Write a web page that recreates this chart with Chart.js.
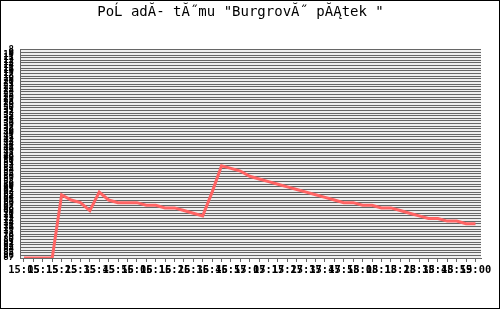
<!DOCTYPE html>
<html>
<head>
<meta charset="utf-8">
<script src="https://cdn.jsdelivr.net/npm/chart.js@4/dist/chart.umd.min.js"></script>
<style>
  html, body { margin: 0; padding: 0; background: #fff; }
  canvas { display: block; }
</style>
</head>
<body>
<canvas id="grafPoradi" width="500" height="309"></canvas>
<script>
// casy mereni (osa x)
const casy = [
  '15:05', '15:10', '15:15', '15:20', '15:25', '15:30', '15:35', '15:40', '15:45', '15:50',
  '15:55', '16:00', '16:05', '16:10', '16:15', '16:20', '16:25', '16:30', '16:35', '16:40',
  '16:45', '16:50', '16:55', '17:00', '17:05', '17:10', '17:15', '17:20', '17:25', '17:30',
  '17:35', '17:40', '17:45', '17:50', '17:55', '18:00', '18:05', '18:10', '18:15', '18:20',
  '18:25', '18:30', '18:35', '18:40', '18:45', '18:50', '18:55', '18:57', '19:00'
];

// poradi tymu v jednotlivych casech
const poradi = [
  87, 87, 87, 87, 63, 65, 66, 69, 62, 65,
  66, 66, 66, 67, 67, 68, 68, 69, 70, 71,
  62, 52, 53, 54, 56, 57, 58, 59, 60, 61,
  62, 63, 64, 65, 66, 66, 67, 67, 68, 68,
  69, 70, 71, 72, 72, 73, 73, 74, 74
];

// rozsah osy y (poradi, obracene)
const poradiMin = 8;
const poradiMax = 87;

const titulek = 'PoĹ adĂ- tĂ˝mu "BurgrovĂ˝ pĂĄtek "';

// pozadi grafu a ramecek
const pozadi = {
  id: 'pozadi',
  beforeDraw(chart) {
    const { ctx, chartArea } = chart;
    ctx.save();
    ctx.fillStyle = '#ffffff';
    ctx.fillRect(0, 0, chart.width, chart.height);
    ctx.fillStyle = '#eeeeee';
    ctx.fillRect(chartArea.left, chartArea.top, chartArea.right - chartArea.left, chartArea.bottom - chartArea.top);
    ctx.restore();
  },
  afterDraw(chart) {
    const ctx = chart.ctx;
    ctx.save();
    ctx.strokeStyle = '#000000';
    ctx.lineWidth = 1;
    ctx.strokeRect(0.5, 0.5, chart.width - 1, chart.height - 1);
    ctx.restore();
  }
};

const ctx = document.getElementById('grafPoradi').getContext('2d');

new Chart(ctx, {
  type: 'line',
  data: {
    datasets: [{
      label: 'poradi',
      data: poradi.map((p, i) => ({ x: i, y: p })),
      borderColor: '#ff6464',
      borderWidth: 3,
      pointRadius: 0,
      tension: 0,
      fill: false
    }]
  },
  options: {
    responsive: false,
    animation: false,
    events: [],
    layout: { padding: { top: 4, right: 19, bottom: 31, left: 0 } },
    plugins: {
      legend: { display: false },
      tooltip: { enabled: false },
      title: {
        display: true,
        text: titulek,
        color: '#000',
        font: { family: 'DejaVu Sans Mono', size: 14, weight: 'normal' },
        padding: { top: 0, bottom: 29 }
      }
    },
    scales: {
      x: {
        type: 'linear',
        min: -0.425,
        max: 48.585,
        afterBuildTicks: (scale) => {
          scale.ticks = casy.map((c, i) => ({ value: i }));
        },
        afterFit: (scale) => { scale.height = 20; },
        ticks: {
          autoSkip: false,
          maxRotation: 0,
          minRotation: 0,
          padding: 2,
          color: '#000',
          font: { family: 'DejaVu Sans Mono', size: 10.4, weight: 'bold' },
          // popisek jen u kazdeho druheho casu
          callback: (v) => (v % 2 === 0 ? casy[v] : '')
        },
        grid: {
          drawOnChartArea: false,
          drawTicks: true,
          tickLength: 4,
          color: '#666666'
        },
        border: { color: '#666666' }
      },
      y: {
        type: 'linear',
        reverse: true,
        min: poradiMin,
        max: poradiMax,
        afterFit: (scale) => { scale.width = 20; },
        ticks: {
          stepSize: 1,
          autoSkip: false,
          padding: 6,
          color: '#000',
          font: { family: 'DejaVu Sans Mono', size: 9, weight: 'bold' }
        },
        grid: {
          color: '#666666',
          drawTicks: false
        },
        border: { color: '#666666' }
      }
    }
  },
  plugins: [pozadi]
});
</script>
</body>
</html>
